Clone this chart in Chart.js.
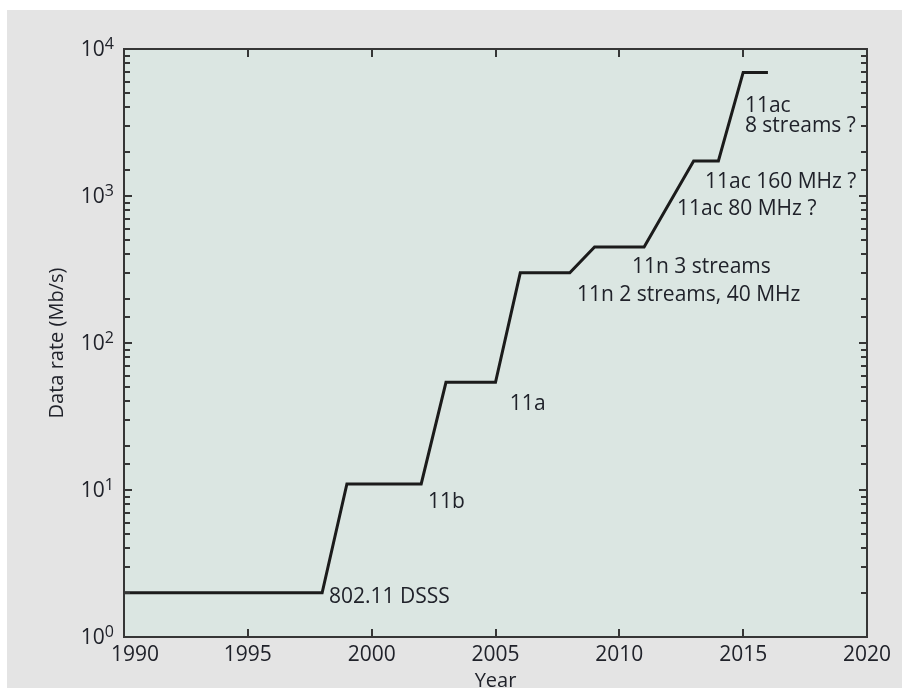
<!DOCTYPE html>
<html>
<head>
<meta charset="utf-8">
<script src="https://cdn.jsdelivr.net/npm/chart.js@4.4.1/dist/chart.umd.min.js"></script>
<style>
  html, body { margin: 0; padding: 0; background: #fff; overflow: hidden; }
  #wrap { position: absolute; left: 7px; top: 10px; width: 895px; height: 700px; background: #e4e4e4; }
  canvas { display: block; }
</style>
</head>
<body>
<div id="wrap"><canvas id="chart" width="895" height="700"></canvas></div>
<script>
// step line of peak 802.11 data rates
const years = [1990, 1998, 1999, 2002, 2003, 2005, 2006, 2008, 2009, 2011, 2013, 2014, 2015, 2016];
const rates = [2, 2, 11, 11, 54, 54, 300, 300, 450, 450, 1730, 1730, 6930, 6930];

// text notes, placed in data space (left edge, middle)
const noteText = ["802.11 DSSS", "11b", "11a", "11n 2 streams, 40 MHz", "11n 3 streams",
  "11ac 80 MHz ?", "11ac 160 MHz ?", "11ac", "8 streams ?"];
const noteYear = [1998.28, 2002.27, 2005.58, 2008.29, 2010.51, 2012.33, 2013.46, 2015.07, 2015.07];
const noteRate = [1.87, 8.3, 38.5, 212, 329, 816, 1245, 4095, 2993];

const FONT = "'Open Sans', 'Noto Sans', sans-serif";
const INK = "#20222a";

const framePlugin = {
  id: "framePlugin",
  beforeDraw(chart) {
    const a = chart.chartArea, ctx = chart.ctx;
    ctx.save();
    ctx.fillStyle = "#dbe6e2";
    ctx.fillRect(a.left, a.top, a.right - a.left, a.bottom - a.top);
    ctx.restore();
  },
  afterDatasetsDraw(chart) {
    const a = chart.chartArea, ctx = chart.ctx;
    const xs = chart.scales.x, ys = chart.scales.y;
    ctx.save();

    // notes
    ctx.fillStyle = INK;
    ctx.font = "21px " + FONT;
    ctx.textAlign = "left";
    ctx.textBaseline = "middle";
    noteText.forEach(function (t, i) {
      ctx.fillText(t, xs.getPixelForValue(noteYear[i]), ys.getPixelForValue(noteRate[i]));
    });

    // inner ticks on all four sides
    ctx.strokeStyle = "#363636";
    ctx.lineWidth = 2;
    ctx.beginPath();
    xs.ticks.forEach(function (t) {
      const px = Math.round(xs.getPixelForValue(t.value));
      ctx.moveTo(px, a.bottom); ctx.lineTo(px, a.bottom - 8);
      ctx.moveTo(px, a.top); ctx.lineTo(px, a.top + 8);
    });
    ys.ticks.forEach(function (t) {
      const py = Math.round(ys.getPixelForValue(t.value));
      const major = Number.isInteger(Math.log10(t.value));
      const len = major ? 8 : 6;
      ctx.moveTo(a.left, py); ctx.lineTo(a.left + len, py);
      ctx.moveTo(a.right, py); ctx.lineTo(a.right - len, py);
    });
    ctx.stroke();

    // frame
    ctx.strokeRect(a.left, a.top, a.right - a.left, a.bottom - a.top);

    // y labels as 10 with a raised exponent
    ys.ticks.forEach(function (t) {
      const e = Math.log10(t.value);
      if (!Number.isInteger(e)) return;
      const py = ys.getPixelForValue(t.value);
      ctx.font = "16px " + FONT;
      const ew = ctx.measureText(String(e)).width;
      const right = a.left - 10;
      ctx.textAlign = "left";
      ctx.fillText(String(e), right - ew, py - 5);
      ctx.font = "21px " + FONT;
      ctx.textAlign = "right";
      ctx.fillText("10", right - ew, py + 1);
    });
    ctx.restore();
  }
};

new Chart(document.getElementById("chart"), {
  type: "line",
  data: {
    datasets: [{
      data: years.map(function (x, i) { return { x: x, y: rates[i] }; }),
      borderColor: "#1b1b1b",
      borderWidth: 3,
      pointRadius: 0,
      fill: false,
      tension: 0
    }]
  },
  options: {
    responsive: false,
    animation: false,
    layout: { padding: { left: 0, top: 39, right: 35, bottom: 0 } },
    plugins: { legend: { display: false }, tooltip: { enabled: false } },
    scales: {
      x: {
        type: "linear",
        min: 1990,
        max: 2020,
        grid: { display: false, drawTicks: false },
        border: { display: false },
        ticks: {
          stepSize: 5,
          color: INK,
          padding: 5,
          maxRotation: 0,
          font: { family: FONT, size: 21 },
          callback: function (v, i) { return i === 0 ? "    " + v : String(v); }
        },
        title: {
          display: true,
          text: "Year",
          color: INK,
          font: { family: FONT, size: 20, lineHeight: 1 },
          padding: { top: 0, bottom: 19 }
        },
        afterFit: function (s) { s.height = 73; }
      },
      y: {
        type: "logarithmic",
        min: 1,
        max: 10000,
        grid: { display: false, drawTicks: false },
        border: { display: false },
        ticks: { display: false, autoSkip: false },
        title: {
          display: true,
          text: "Data rate (Mb/s)",
          color: INK,
          font: { family: FONT, size: 20, lineHeight: 1 },
          padding: { top: 40, bottom: 0 }
        },
        afterFit: function (s) { s.width = 117; }
      }
    }
  },
  plugins: [framePlugin]
});
</script>
</body>
</html>
